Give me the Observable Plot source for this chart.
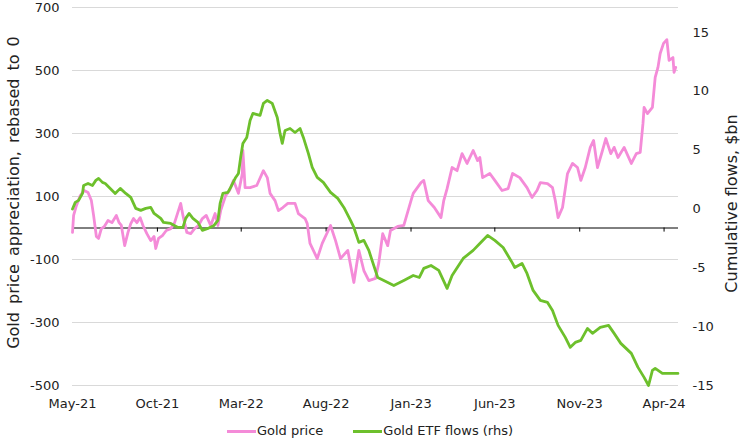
<!DOCTYPE html>
<html><head><meta charset="utf-8">
<script src="https://cdn.jsdelivr.net/npm/d3@7"></script>
<script src="https://cdn.jsdelivr.net/npm/@observablehq/plot@0.6"></script>
<style>
body{margin:0;background:#fff;font-family:"DejaVu Sans",sans-serif;color:#222;}
#legend{display:flex;justify-content:center;gap:30px;font-size:13px;line-height:18px;margin-top:4px;}
#legend .item{display:flex;align-items:center;}
#legend .sw{display:inline-block;width:29px;height:3px;margin-right:1px;}
</style></head><body><div id="chart"></div><div id="legend"></div>
<script>
const goldDates = ["2021-05-01","2021-05-03","2021-05-08","2021-05-15","2021-05-22","2021-05-29","2021-06-04","2021-06-08","2021-06-13","2021-06-17","2021-06-22","2021-06-27","2021-07-04","2021-07-11","2021-07-19","2021-07-24","2021-07-28","2021-08-03","2021-08-09","2021-08-14","2021-08-19","2021-08-25","2021-08-31","2021-09-05","2021-09-12","2021-09-19","2021-09-25","2021-09-28","2021-10-03","2021-10-10","2021-10-17","2021-10-25","2021-11-01","2021-11-12","2021-11-16","2021-11-23","2021-11-30","2021-12-07","2021-12-14","2021-12-21","2021-12-28","2022-01-05","2022-01-13","2022-01-18","2022-01-23","2022-02-01","2022-02-08","2022-02-15","2022-02-24","2022-03-03","2022-03-04","2022-03-08","2022-03-17","2022-03-29","2022-04-10","2022-04-17","2022-04-22","2022-05-01","2022-05-07","2022-05-15","2022-05-24","2022-06-06","2022-06-12","2022-06-24","2022-06-28","2022-07-03","2022-07-16","2022-07-25","2022-08-09","2022-08-18","2022-08-27","2022-09-09","2022-09-20","2022-09-29","2022-10-08","2022-10-17","2022-10-29","2022-11-04","2022-11-11","2022-11-20","2022-11-25","2022-12-08","2022-12-19","2023-01-01","2023-01-05","2023-01-19","2023-01-24","2023-02-01","2023-02-12","2023-02-24","2023-03-01","2023-03-07","2023-03-16","2023-03-25","2023-04-03","2023-04-12","2023-04-23","2023-05-01","2023-05-05","2023-05-10","2023-05-23","2023-06-01","2023-06-14","2023-06-25","2023-07-03","2023-07-16","2023-07-29","2023-08-07","2023-08-16","2023-08-22","2023-09-04","2023-09-13","2023-09-18","2023-09-23","2023-10-01","2023-10-10","2023-10-19","2023-10-28","2023-11-03","2023-11-11","2023-11-20","2023-11-26","2023-12-03","2023-12-12","2023-12-18","2023-12-27","2024-01-02","2024-01-09","2024-01-20","2024-02-02","2024-02-11","2024-02-18","2024-02-23","2024-02-25","2024-03-02","2024-03-11","2024-03-16","2024-03-21","2024-03-25","2024-03-31","2024-04-06","2024-04-10","2024-04-17","2024-04-19","2024-04-22"];
const goldValues = [-14,40,71,103,119,113,87,40,-27,-33,-2,4,24,17,40,17,8,-56,-14,14,30,17,33,8,-18,-40,-27,-65,-33,-24,-8,-2,17,78,40,-14,-18,-2,8,30,40,8,46,8,55,103,119,151,110,173,246,128,128,135,182,160,110,87,55,65,78,78,46,30,14,-49,-97,-49,8,-40,-97,-71,-173,-71,-135,-167,-160,-110,-18,-56,-8,5,8,87,110,144,151,87,65,33,87,125,192,182,236,205,246,214,224,160,173,151,119,125,173,160,128,97,119,144,141,128,87,33,65,173,205,192,151,192,256,278,192,246,284,236,256,224,256,205,236,240,332,383,363,383,478,510,554,586,598,532,541,494,510];

const etfDates = ["2021-05-01","2021-05-06","2021-05-12","2021-05-19","2021-05-21","2021-05-29","2021-06-06","2021-06-12","2021-06-17","2021-06-24","2021-06-29","2021-07-08","2021-07-17","2021-07-26","2021-08-05","2021-08-14","2021-08-23","2021-09-01","2021-09-10","2021-09-19","2021-09-25","2021-10-07","2021-10-12","2021-10-25","2021-11-07","2021-11-16","2021-11-21","2021-11-27","2021-12-04","2021-12-13","2021-12-21","2021-12-31","2022-01-11","2022-01-18","2022-01-22","2022-01-27","2022-02-05","2022-02-10","2022-02-19","2022-02-24","2022-02-28","2022-03-04","2022-03-11","2022-03-17","2022-03-22","2022-04-04","2022-04-10","2022-04-17","2022-04-26","2022-05-05","2022-05-10","2022-05-14","2022-05-19","2022-05-28","2022-06-06","2022-06-15","2022-06-21","2022-06-30","2022-07-07","2022-07-16","2022-07-27","2022-08-09","2022-08-22","2022-09-02","2022-09-14","2022-09-20","2022-09-29","2022-10-08","2022-10-17","2022-10-24","2022-11-02","2022-11-13","2022-12-01","2022-12-19","2023-01-05","2023-01-16","2023-01-24","2023-02-06","2023-02-20","2023-03-07","2023-03-16","2023-04-05","2023-04-23","2023-05-05","2023-05-19","2023-06-01","2023-06-16","2023-07-02","2023-07-07","2023-07-20","2023-07-29","2023-08-09","2023-08-22","2023-09-04","2023-09-13","2023-09-23","2023-10-06","2023-10-15","2023-10-24","2023-11-03","2023-11-15","2023-11-24","2023-12-08","2023-12-23","2024-01-02","2024-01-14","2024-02-02","2024-02-14","2024-02-25","2024-03-04","2024-03-11","2024-03-16","2024-03-29","2024-04-10","2024-04-26"];
const etfValues = [0.0,0.56,0.73,1.32,2.0,2.17,2.0,2.43,2.6,2.26,2.17,1.75,1.32,1.75,1.32,0.98,0.05,-0.12,0.05,0.13,-0.38,-0.8,-1.14,-1.23,-1.57,-1.57,-0.8,-0.38,-0.8,-1.14,-1.82,-1.65,-1.4,-0.97,0.47,1.32,1.41,1.83,2.68,3.02,4.38,5.57,6.08,7.52,8.12,7.95,8.97,9.22,8.97,7.78,6.42,5.57,6.67,6.84,6.5,6.84,6.08,4.72,3.53,2.68,2.26,1.41,0.9,0.13,-0.97,-1.57,-2.84,-2.67,-3.52,-4.54,-5.82,-6.07,-6.5,-6.07,-5.65,-5.82,-5.05,-4.8,-5.22,-6.75,-5.65,-4.2,-3.52,-2.93,-2.25,-2.67,-3.27,-4.54,-4.97,-4.63,-5.48,-6.92,-7.77,-7.94,-8.62,-9.89,-10.91,-11.76,-11.34,-11.17,-10.15,-10.57,-10.06,-9.89,-10.57,-11.42,-12.27,-13.46,-14.31,-15.0,-13.72,-13.55,-13.97,-13.97,-13.97];

const leftTicks = [-500,-300,-100,100,300,500,700];
const rightTicks = [-15,-10,-5,0,5,10,15];
const xTickDates = ["2021-05-01","2021-10-01","2022-03-01","2022-08-01","2023-01-01","2023-06-01","2023-11-01","2024-04-01"];
const xTickLabels = ["May-21","Oct-21","Mar-22","Aug-22","Jan-23","Jun-23","Nov-23","Apr-24"];
const seriesNames = ["Gold price","Gold ETF flows (rhs)"];
const leftTitle = "Gold price appreciation, rebased to 0";
const rightTitle = "Cumulative flows, $bn";

const PINK = "#f48bd8", GREEN = "#6dc02c";
const LEFT = [-500, 700], RIGHT = [-15, 17.12];
const toLeft = v => LEFT[0] + (v - RIGHT[0]) * (LEFT[1] - LEFT[0]) / (RIGHT[1] - RIGHT[0]);

const gold = goldDates.map((d, i) => ({date: new Date(d), value: goldValues[i]}));
const etf = etfDates.map((d, i) => ({date: new Date(d), value: toLeft(etfValues[i])}));
const xTicks = xTickDates.map(d => new Date(d));
const rightPos = rightTicks.map(toLeft);

const chart = Plot.plot({
  width: 740, height: 418,
  marginTop: 7, marginBottom: 33, marginLeft: 72, marginRight: 62,
  style: {fontFamily: "DejaVu Sans, sans-serif", fontSize: "13px", color: "#222", background: "#fff"},
  x: {type: "utc", domain: [new Date("2021-05-01"), new Date("2024-04-27")]},
  y: {domain: LEFT},
  marks: [
    Plot.gridY(leftTicks, {stroke: "#d9d9d9", strokeOpacity: 1, strokeWidth: 1}),
    Plot.ruleY([0], {stroke: "#000", strokeWidth: 1}),
    Plot.ruleX(xTicks, {y1: 0, y2: -13, stroke: "#000", strokeWidth: 1}),
    Plot.axisX(xTicks, {anchor: "bottom", tickSize: 0, tickPadding: 13, tickFormat: (d, i) => xTickLabels[xTicks.findIndex(t => +t === +d)], label: null}),
    Plot.axisY(leftTicks, {anchor: "left", tickSize: 0, tickPadding: 13, tickFormat: d => String(d), label: null}),
    Plot.axisY(rightPos, {anchor: "right", tickSize: 0, tickPadding: 14, tickFormat: d => String(rightTicks[rightPos.indexOf(d)]), label: null}),
    Plot.line(gold, {x: "date", y: "value", stroke: PINK, strokeWidth: 2.8}),
    Plot.line(etf, {x: "date", y: "value", stroke: GREEN, strokeWidth: 2.8}),
    Plot.text([leftTitle], {frameAnchor: "left", textAnchor: "middle", dx: -59, dy: -4, rotate: -90, fontSize: 16, fill: "#222"}),
    Plot.text([rightTitle], {frameAnchor: "right", textAnchor: "middle", dx: 53, dy: 7, rotate: -90, fontSize: 16, fill: "#222"})
  ]
});
chart.querySelectorAll("text").forEach(t => { if (t.textContent === leftTitle) t.style.wordSpacing = "3px"; });
document.getElementById("chart").appendChild(chart);

const legend = document.getElementById("legend");
[[seriesNames[0], PINK], [seriesNames[1], GREEN]].forEach(([name, color]) => {
  const item = document.createElement("div");
  item.className = "item";
  const sw = document.createElement("span");
  sw.className = "sw"; sw.style.background = color;
  const t = document.createElement("span");
  t.textContent = name;
  item.appendChild(sw); item.appendChild(t);
  legend.appendChild(item);
});
</script>
</body></html>
